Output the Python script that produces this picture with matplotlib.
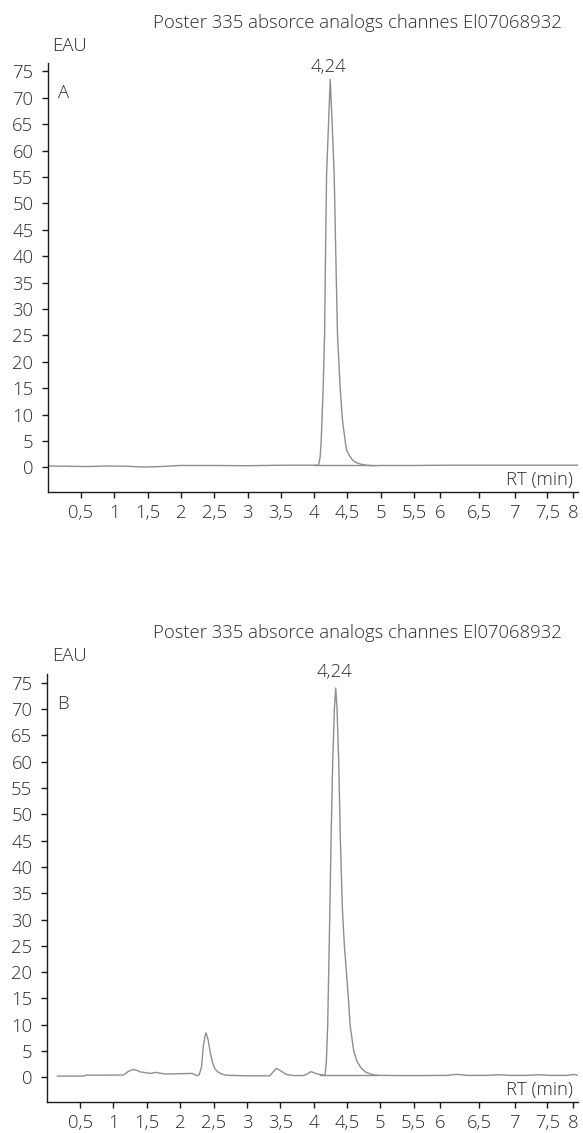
import matplotlib
matplotlib.use('Agg')
import matplotlib.pyplot as plt

plt.rcParams['font.family'] = ['Open Sans', 'DejaVu Sans']

# ---------------- data ----------------
title_text = "Poster 335 absorce analogs channes El07068932"
y_label = "EAU"
x_label = "RT (min)"
peak_label = "4,24"
panel_labels = ["A", "B"]

# tick positions as drawn on the original (irregular spacing after 5,5)
x_tick_pos = [0.5, 1, 1.5, 2, 2.5, 3, 3.5, 4, 4.5, 5, 5.5, 5.89, 6.48, 7.01, 7.5, 7.885]
x_tick_labels = ["0,5", "1", "1,5", "2", "2,5", "3", "3,5", "4", "4,5", "5", "5,5",
                 "6", "6,5", "7", "7,5", "8"]
y_ticks = list(range(0, 80, 5))

# Panel A trace (RT, signal)
rt_a = [0.00, 0.30, 0.60, 0.90, 1.20, 1.45, 1.70, 2.00, 2.50, 3.00, 3.50, 3.90,
        4.066, 4.09, 4.105, 4.117, 4.135, 4.156, 4.17, 4.186, 4.215, 4.241,
        4.27, 4.30, 4.325, 4.35, 4.39, 4.425, 4.465, 4.485, 4.53, 4.575, 4.63,
        4.70, 4.78, 4.87, 5.00, 5.50, 6.00, 6.50, 7.00, 7.50, 7.96]
sig_a = [0.25, 0.20, 0.15, 0.25, 0.20, 0.05, 0.15, 0.35, 0.35, 0.30, 0.40, 0.40,
         0.40, 2.0, 5.0, 8.9, 15.0, 25.0, 40.0, 55.5, 65.0, 73.5,
         65.0, 55.5, 40.0, 25.0, 15.0, 8.9, 5.0, 3.3, 2.2, 1.4, 0.9,
         0.6, 0.4, 0.3, 0.35, 0.35, 0.40, 0.40, 0.40, 0.40, 0.40]
base_a_rt = [4.00, 4.90]
base_a_sig = [0.35, 0.35]

# Panel B trace (RT, signal)
rt_b = [0.16, 0.40, 0.55, 0.60, 0.90, 1.15, 1.22, 1.29, 1.35, 1.40, 1.48, 1.55,
        1.63, 1.70, 1.78, 2.00, 2.18, 2.23, 2.26, 2.285, 2.32, 2.345, 2.37,
        2.385, 2.40, 2.42, 2.45, 2.48, 2.52, 2.57, 2.63, 2.70, 3.00, 3.34,
        3.39, 3.44, 3.50, 3.59, 3.70, 3.85, 3.91, 3.96, 4.02, 4.10, 4.17,
        4.19, 4.21, 4.225, 4.24, 4.26, 4.285, 4.31, 4.33, 4.35, 4.375, 4.40,
        4.43, 4.46, 4.49, 4.52, 4.545, 4.60, 4.65, 4.71, 4.78, 4.86, 4.94,
        5.20, 5.60, 6.00, 6.14, 6.30, 6.60, 6.76, 6.95, 7.20, 7.37, 7.55,
        7.80, 7.90, 7.96]
sig_b = [0.25, 0.25, 0.25, 0.43, 0.43, 0.45, 1.1, 1.5, 1.35, 1.05, 0.9, 0.75,
         0.95, 0.8, 0.64, 0.7, 0.75, 0.43, 0.35, 0.5, 2.0, 5.8, 7.7,
         8.45, 8.0, 7.0, 4.8, 3.0, 1.6, 1.0, 0.6, 0.4, 0.3, 0.3,
         1.0, 1.7, 1.3, 0.55, 0.35, 0.35, 0.7, 1.1, 0.8, 0.5, 0.45,
         3.0, 10.0, 20.0, 30.0, 45.0, 60.0, 70.0, 74.0, 70.0, 60.0, 45.0,
         32.0, 25.0, 20.0, 15.0, 10.0, 5.0, 3.0, 1.8, 1.0, 0.6, 0.4,
         0.35, 0.35, 0.38, 0.58, 0.38, 0.38, 0.5, 0.38, 0.38, 0.5, 0.38,
         0.38, 0.55, 0.40]
base_b_rt = [4.10, 4.95]
base_b_sig = [0.42, 0.42]

# ---------------- styling ----------------
W, H = 583, 1133
TXT = '#2b2b2b'
LINE = '#8e8e8e'
FS = 13.3
FW = 'light'

fig = plt.figure(figsize=(W / 100, H / 100), dpi=100)


def px2fx(px):
    return px / W


def px2fy(py):
    return 1 - py / H


panels = [
    dict(rt=rt_a, sig=sig_a, brt=base_a_rt, bsig=base_a_sig, label=panel_labels[0],
         left=47.7, right=578, top=63, bottom=491.7, title_y=23, eau_y=46,
         peak_xy=(4.21, 75.9)),
    dict(rt=rt_b, sig=sig_b, brt=base_b_rt, bsig=base_b_sig, label=panel_labels[1],
         left=46.7, right=578, top=674.3, bottom=1101.7, title_y=633.5, eau_y=656,
         peak_xy=(4.31, 77.0)),
]

for p in panels:
    ax = fig.add_axes([px2fx(p['left']), px2fy(p['bottom']),
                       px2fx(p['right'] - p['left']), (p['bottom'] - p['top']) / H])
    ax.plot(p['rt'], p['sig'], color=LINE, lw=1.0, solid_joinstyle='round')
    ax.plot(p['brt'], p['bsig'], color=LINE, lw=1.0)
    ax.set_xlim(0, 7.96)
    ax.set_ylim(-4.62, 76.6)
    for s in ['top', 'right']:
        ax.spines[s].set_visible(False)
    for s in ['left', 'bottom']:
        ax.spines[s].set_color('#1a1a1a')
        ax.spines[s].set_linewidth(1.0)
    ax.set_xticks(x_tick_pos)
    ax.set_xticklabels(x_tick_labels, fontweight=FW)
    ax.set_yticks(y_ticks)
    ax.set_yticklabels([str(v) for v in y_ticks], fontweight=FW)
    ax.tick_params(axis='both', direction='out', length=4.3, width=1.0,
                   color='#1a1a1a', labelsize=FS, labelcolor=TXT)
    ax.tick_params(axis='y', pad=6)
    ax.tick_params(axis='x', pad=4.5)
    ax.text(7.885, -2.4, x_label, ha='right', va='center', fontsize=FS, color=TXT,
            fontweight=FW)
    ax.text(0.155, 71, p['label'], ha='left', va='center', fontsize=FS, color=TXT,
            fontweight=FW)
    ax.text(p['peak_xy'][0], p['peak_xy'][1], peak_label, ha='center', va='center',
            fontsize=FS, color=TXT, clip_on=False, fontweight=FW)
    fig.text(px2fx(357), px2fy(p['title_y']), title_text, ha='center', va='center',
             fontsize=FS, color=TXT, fontweight=FW)
    fig.text(px2fx(51.7), px2fy(p['eau_y']), y_label, ha='left', va='center',
             fontsize=FS, color=TXT, fontweight=FW)

fig.savefig('out.png', dpi=100, facecolor='white')
